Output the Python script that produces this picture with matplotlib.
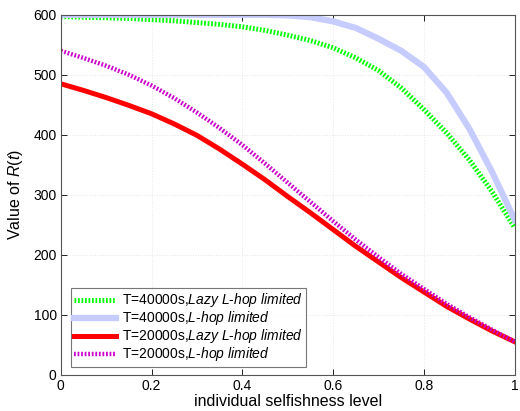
import matplotlib
matplotlib.use("Agg")
import matplotlib.pyplot as plt

plt.rcParams['font.family'] = ['Liberation Sans', 'DejaVu Sans']
plt.rcParams['mathtext.fontset'] = 'custom'
plt.rcParams['mathtext.rm'] = 'Liberation Sans'
plt.rcParams['mathtext.it'] = 'Liberation Sans:italic'

x = [0.00, 0.05, 0.10, 0.15, 0.20, 0.25, 0.30, 0.35, 0.40, 0.45, 0.50,
     0.55, 0.60, 0.65, 0.70, 0.75, 0.80, 0.85, 0.90, 0.95, 1.00]

lazy_40000 = [597, 596, 595, 594, 592, 590, 587, 584, 580, 574, 566,
              557, 545, 528, 507, 478, 442, 403, 358, 305, 245]
lhop_40000 = [600, 600, 600, 600, 600, 600, 600, 600, 600, 600, 599,
              596, 589, 578, 560, 540, 513, 470, 410, 338, 258]
lazy_20000 = [485, 474, 462, 449, 435, 418, 399, 376, 351, 325, 297,
              270, 242, 214, 188, 162, 138, 114, 93, 73, 55]
lhop_20000 = [540, 528, 515, 500, 482, 461, 437, 411, 383, 352, 320,
              288, 256, 225, 196, 168, 143, 118, 96, 75, 55]

labels = [
    r"T=40000s,$\mathit{Lazy\ L‐hop\ limited}$",
    r"T=40000s,$\mathit{L‐hop\ limited}$",
    r"T=20000s,$\mathit{Lazy\ L‐hop\ limited}$",
    r"T=20000s,$\mathit{L‐hop\ limited}$",
]

fig = plt.figure(figsize=(5.2, 4.11), dpi=100)
ax = fig.add_axes([0.117, 0.088, 0.873, 0.876])

ax.plot(x, lazy_40000, color=(0, 1, 0), lw=3.6, ls=(0, (0.35, 0.35)), label=labels[0])
ax.plot(x, lhop_40000, color=(0.78, 0.8, 1.0), lw=4.5, label=labels[1])
ax.plot(x, lazy_20000, color=(1, 0, 0), lw=3.6, label=labels[2])
ax.plot(x, lhop_20000, color=(0.8, 0, 0.8), lw=3.2, ls=(0, (0.4, 0.4)), label=labels[3])

ax.set_xlim(0, 1)
ax.set_ylim(0, 600)
ax.set_xticks([0, 0.2, 0.4, 0.6, 0.8, 1])
ax.set_xticklabels(['0', '0.2', '0.4', '0.6', '0.8', '1'])
ax.set_yticks([0, 100, 200, 300, 400, 500, 600])
ax.tick_params(direction='in', top=True, right=True, labelsize=10, length=4, width=0.6, pad=3)
ax.grid(True, color='#e6e6e6', ls=':', lw=0.7)
for s in ax.spines.values():
    s.set_color('#555555')
    s.set_linewidth(0.8)

ax.set_xlabel('individual selfishness level', fontsize=11.5, labelpad=1)
ax.set_ylabel(r'Value of $\mathit{R(t)}$', fontsize=11.5, labelpad=6)

leg = ax.legend(loc='lower left', bbox_to_anchor=(0.022, 0.022), fontsize=10,
                frameon=True, fancybox=False, edgecolor='#555555',
                handlelength=3.0, handletextpad=0.4, labelspacing=0.0,
                borderpad=0.25, borderaxespad=0)
leg.get_frame().set_linewidth(0.8)

fig.savefig('out.png', dpi=100)
